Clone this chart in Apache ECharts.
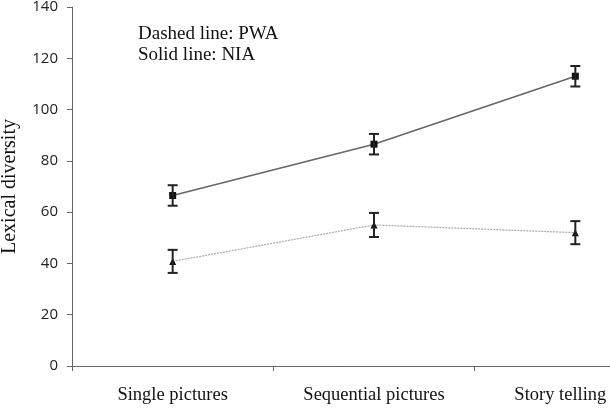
<!DOCTYPE html>
<html>
<head>
<meta charset="utf-8">
<script src="https://cdn.jsdelivr.net/npm/echarts@6/dist/echarts.min.js"></script>
<style>
  html, body { margin: 0; padding: 0; background: #fff; }
  #chart { width: 610px; height: 408px; }
</style>
</head>
<body>
<div id="chart"></div>
<script>
// tasks on the x axis
var tasks = ['Single pictures', 'Sequential pictures', 'Story telling']
// NIA = solid line, PWA = dashed line
var niaMean = [66.5, 86.5, 113]
var niaErr = [4, 4, 4]
var pwaMean = [40.8, 55, 52]
var pwaErr = [4.5, 4.7, 4.5]
var yTicks = [0, 20, 40, 60, 80, 100, 120, 140]

var serif = '"Liberation Serif", "DejaVu Serif", serif'
var sans = '"Open Sans", "Liberation Sans", sans-serif'

function errData(mean, err) {
  var out = []
  for (var i = 0; i < mean.length; i++) {
    out.push([i, mean[i] - err[i], mean[i] + err[i]])
  }
  return out
}

function renderErr(params, api) {
  var lo = api.coord([api.value(0), api.value(1)])
  var hi = api.coord([api.value(0), api.value(2)])
  var w = 5
  var st = { stroke: '#222', lineWidth: 2 }
  return {
    type: 'group',
    children: [
      { type: 'line', shape: { x1: lo[0], y1: lo[1], x2: hi[0], y2: hi[1] }, style: st },
      { type: 'line', shape: { x1: lo[0] - w, y1: lo[1], x2: lo[0] + w, y2: lo[1] }, style: st },
      { type: 'line', shape: { x1: hi[0] - w, y1: hi[1], x2: hi[0] + w, y2: hi[1] }, style: st }
    ]
  }
}

var xData = tasks.map(function (t, i) {
  // last label sits left of its band centre in the original
  if (i === tasks.length - 1) {
    return { value: t, textStyle: { padding: [0, 30, 0, 0] } }
  }
  return t
})

var option = {
  backgroundColor: '#fff',
  animation: false,
  title: {
    text: 'Dashed line: PWA\nSolid line: NIA',
    left: 133,
    top: 19,
    textStyle: {
      fontFamily: serif,
      fontSize: 19,
      fontWeight: 'normal',
      color: '#111',
      lineHeight: 21
    }
  },
  grid: {
    left: 72,
    top: 7,
    bottom: 42,
    right: -66,
    containLabel: false,
    outerBoundsMode: 'none'
  },
  xAxis: {
    type: 'category',
    data: xData,
    boundaryGap: true,
    axisLine: { lineStyle: { color: '#666', width: 1 } },
    axisTick: { show: true, length: 5, inside: false, lineStyle: { color: '#666' } },
    axisLabel: {
      fontFamily: serif,
      fontSize: 18.5,
      color: '#111',
      margin: 20
    },
    splitLine: { show: false }
  },
  yAxis: {
    type: 'value',
    min: yTicks[0],
    max: yTicks[yTicks.length - 1],
    interval: 20,
    name: 'Lexical diversity',
    nameLocation: 'middle',
    nameGap: 52,
    nameMoveOverlap: false,
    nameRotate: 90,
    nameTextStyle: {
      fontFamily: serif,
      fontSize: 20,
      color: '#111'
    },
    axisLine: { show: true, lineStyle: { color: '#666', width: 1 } },
    axisTick: { show: true, length: 5, lineStyle: { color: '#666' } },
    axisLabel: {
      fontFamily: sans,
      fontSize: 15,
      color: '#222',
      margin: 14
    },
    splitLine: { show: false }
  },
  series: [
    {
      name: 'NIA',
      type: 'line',
      data: niaMean,
      symbol: 'rect',
      symbolSize: 7,
      itemStyle: { color: '#111' },
      lineStyle: { color: '#666', width: 1.5, type: 'solid' },
      z: 3
    },
    {
      name: 'PWA',
      type: 'line',
      data: pwaMean,
      symbol: 'triangle',
      symbolSize: 7,
      itemStyle: { color: '#111' },
      lineStyle: { color: '#aaa', width: 1.2, type: [2, 1] },
      z: 3
    },
    {
      name: 'NIA error',
      type: 'custom',
      renderItem: renderErr,
      data: errData(niaMean, niaErr),
      z: 4
    },
    {
      name: 'PWA error',
      type: 'custom',
      renderItem: renderErr,
      data: errData(pwaMean, pwaErr),
      z: 4
    }
  ]
}

var myChart = echarts.init(document.getElementById('chart'))
myChart.setOption(option)
</script>
</body>
</html>
